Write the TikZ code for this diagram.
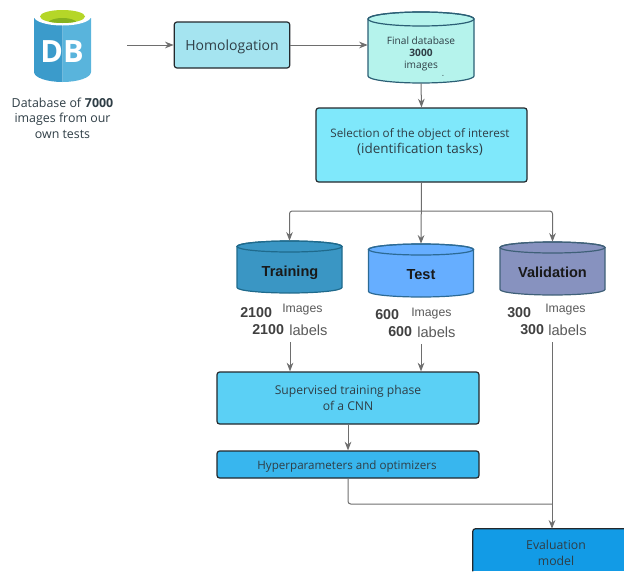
\documentclass[tikz,border=0pt]{standalone}
\usepackage{fontspec}
\setmainfont{Open Sans}
\newfontfamily\arialf{Liberation Sans}
\usetikzlibrary{arrows.meta}
\definecolor{inkc}{HTML}{2F3E46}
\definecolor{linec}{HTML}{6E6E6E}
\definecolor{boxline}{HTML}{23282C}
\definecolor{finalfill}{HTML}{B5F3EC}
\definecolor{finalline}{HTML}{2B5F75}
\definecolor{trainfill}{HTML}{3A96C4}
\definecolor{trainline}{HTML}{1F6A8C}
\definecolor{testfill}{HTML}{66AEFF}
\definecolor{testline}{HTML}{2C6A95}
\definecolor{valfill}{HTML}{8792BF}
\definecolor{valline}{HTML}{3F6078}
\newcommand{\drumshape}[7]{% name, centre x, top y, bottom y, half width, end radius, fill/line colour prefix
  \node[inner sep=0pt,minimum width=#5*1.5pt,minimum height=(#4-#3)*0.75pt] (#1) at (#2,{(#3+#4)/2}) {};
  \draw[draw=#7line,fill=#7fill,line width=0.9pt,line join=round]
    ({#2-#5},{#3+#6}) -- ({#2-#5},{#4-#6})
    arc[start angle=180,end angle=0,x radius=#5,y radius=#6]
    -- ({#2+#5},{#3+#6})
    arc[start angle=0,end angle=-180,x radius=#5,y radius=#6] -- cycle;
  \draw[draw=#7line,line width=0.9pt] (#2,{#3+#6}) ellipse[x radius=#5,y radius=#6];
}
\tikzset{
  x=0.75pt,y=-0.75pt,
  flow/.style={draw=boxline,line width=0.9pt,rounded corners=2pt,inner sep=0pt,text=inkc,align=center},
  conn/.style={draw=linec,line width=0.75pt,-{Stealth[length=6.5pt,width=5pt]}},
  plainconn/.style={draw=linec,line width=0.75pt,rounded corners=2pt},
  lab/.style={inner sep=0pt,text=inkc,align=center},
  num/.style={inner sep=0pt,anchor=west,text=black!75,font=\arialf\bfseries\fontsize{10.7}{12}\selectfont},
  unit/.style={inner sep=0pt,anchor=west,text=black!65,font=\arialf\fontsize{11}{12}\selectfont},
  imgs/.style={inner sep=0pt,anchor=west,text=black!65,font=\arialf\fontsize{9.2}{10}\selectfont},
  cylname/.style={inner sep=0pt,text=black!90,font=\arialf\bfseries\fontsize{10.9}{12}\selectfont},
}
\begin{document}
\begin{tikzpicture}
\useasboundingbox (0,0) rectangle (624,571);
% DB icon
\fill[color={rgb,255:red,59;green,155;blue,203}] (34,18) -- (34,72) arc[start angle=180,end angle=90,x radius=28.5,y radius=10] -- (62.5,18) -- cycle;
\fill[color={rgb,255:red,89;green,180;blue,220}] (62.5,18) -- (62.5,82) arc[start angle=90,end angle=0,x radius=28.5,y radius=10] -- (91,18) -- cycle;
\fill[white] (62.5,16.5) ellipse[x radius=28.5,y radius=9];
\fill[color={rgb,255:red,181;green,214;blue,40}] (62.5,16.5) ellipse[x radius=22.5,y radius=6.5];
\begin{scope}
\clip (62.5,16.5) ellipse[x radius=22.5,y radius=6.5];
\fill[color={rgb,255:red,134;green,178;blue,30}] (62.5,25) ellipse[x radius=16,y radius=7];
\end{scope}
\node[inner sep=0pt,text=white,font=\bfseries\fontsize{23}{25}\selectfont] (dbmark) at (62,52) {DB};
\node[lab,font=\fontsize{9.3}{11.6}\selectfont] (dbtext) at (62.5,118) {Database of \textbf{7000}\\images from our\\own tests};
\coordinate (start) at (127,45);
% Flow boxes
\node[flow,fill={rgb,255:red,165;green,228;blue,240},minimum width=86.6pt,minimum height=34.5pt] (homo) at (232,45) {};
\node[lab,font=\fontsize{10.5}{12}\selectfont] (homotext) at (232,47) {Homologation};
\drumshape{final}{421}{12}{83}{53}{7}{final}
\node[lab,font=\fontsize{7.6}{9.2}\selectfont] (finaltext) at (421,54) {Final database\\\textbf{3000}\\images};
\node[inner sep=0pt,text=inkc,font=\fontsize{5}{6}\selectfont] (dash) at (443,76.5) {-};
\node[flow,fill={rgb,255:red,127;green,232;blue,251},minimum width=158.25pt,minimum height=55.5pt] (sel) at (421.5,145) {};
\node[lab] (seltext) at (420,142) {{\fontsize{8.75}{12.5}\selectfont Selection of the object of interest}\\{\fontsize{10.1}{12.5}\selectfont (identification tasks)}};
% Three sets
\drumshape{train}{289.5}{241}{293}{52.5}{5.5}{train}
\drumshape{test}{421}{244}{297}{52.5}{5.5}{test}
\drumshape{val}{552.5}{242}{295}{52.5}{5.5}{val}
\node[cylname] (trainname) at (290,272.5) {Training};
\node[cylname] (testname) at (421,275) {Test};
\node[cylname] (valname) at (552.5,272) {Validation};
% Counts
\node[num] (n1) at (240,313) {2100};
\node[imgs] (i1) at (282,309.5) {Images};
\node[num] (n2) at (252,330) {2100};
\node[unit] (u1) at (289,330) {labels};
\node[num] (n3) at (375,315) {600};
\node[imgs] (i2) at (411,313.5) {Images};
\node[num] (n4) at (388,332) {600};
\node[unit] (u2) at (417,332) {labels};
\node[num] (n5) at (507,313) {300};
\node[imgs] (i3) at (545,309.5) {Images};
\node[num] (n6) at (520,330) {300};
\node[unit] (u3) at (548,330) {labels};
\coordinate (tfoot) at (290,342);
\coordinate (efoot) at (421,344);
\coordinate (vfoot) at (552,342);
% Lower boxes
\node[flow,fill={rgb,255:red,91;green,208;blue,245},minimum width=196.5pt,minimum height=39pt,font=\fontsize{9.1}{12}\selectfont] (sup) at (348,398) {Supervised training phase\\of a CNN};
\node[flow,fill={rgb,255:red,56;green,182;blue,238},minimum width=196.5pt,minimum height=20.25pt] (hyp) at (348,464.5) {};
\node[lab,font=\fontsize{8.7}{10}\selectfont] (hyptext) at (347,466.5) {Hyperparameters and optimizers};
\node[inner sep=0pt,fill={rgb,255:red,18;green,155;blue,230},minimum width=113.25pt,minimum height=31.5pt] (eval) at (548.5,550) {};
\draw[boxline,line width=0.9pt,rounded corners=2pt] (eval.south west) -- (eval.north west) -- (eval.north east);
\node[lab,font=\fontsize{9.2}{12}\selectfont] (evaltext) at (556,553) {Evaluation\\model};
\coordinate (branch) at (421.5,211);
\coordinate (join) at (552,504);
% Connectors
\draw[conn] (start) -- (homo.west);
\draw[conn] (homo.east) -- (final.west|-homo.east);
\draw[conn] (final.south) -- (sel.north);
\draw[conn] (sel.south) -- (test.north);
\draw[conn,rounded corners=2pt] (branch) -| (train.north);
\draw[conn,rounded corners=2pt] (branch) -| (val.north);
\draw[conn] (tfoot) -- (tfoot|-sup.north);
\draw[conn] (efoot) -- (efoot|-sup.north);
\draw[conn] (sup.south) -- (hyp.north);
\draw[plainconn] (hyp.south) |- (join);
\draw[conn] (vfoot) -- (vfoot|-eval.north);
\end{tikzpicture}
\end{document}
